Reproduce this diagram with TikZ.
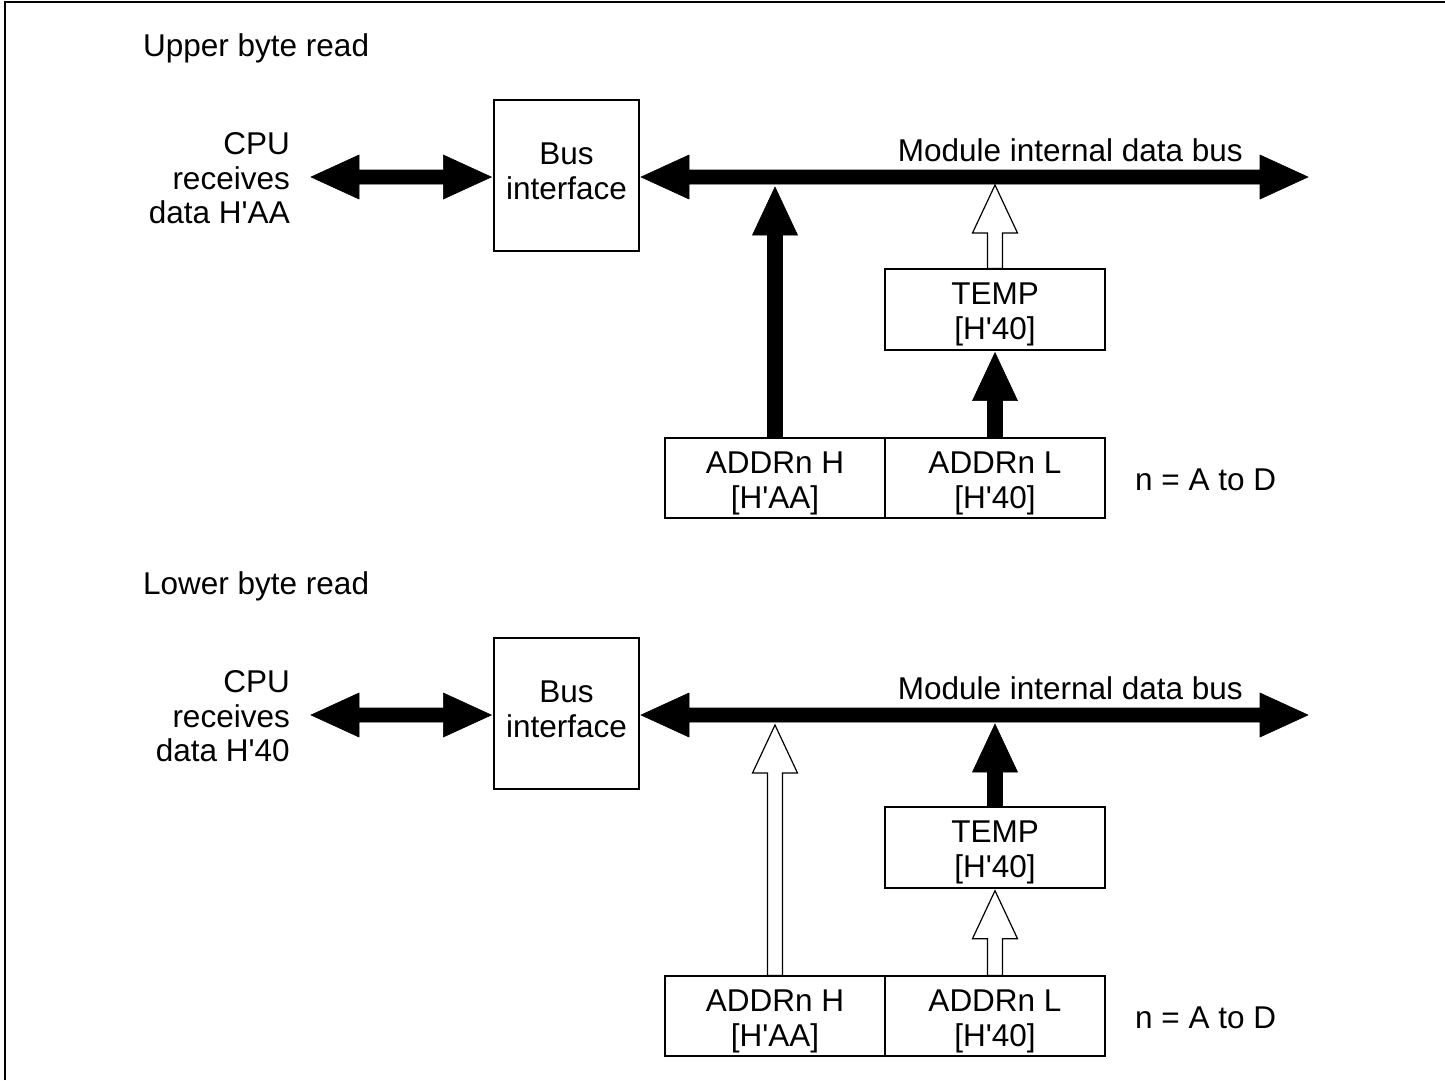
\documentclass[tikz,border=0pt]{standalone}
\usepackage{fontspec}
\setmainfont{Liberation Sans}
\usetikzlibrary{calc}
\newcommand{\q}{\textquotesingle}
\tikzset{
  txt/.style={inner sep=0pt, font=\fontsize{31.5}{34.5}\selectfont},
  box/.style={draw, line width=1.3pt, inner sep=0pt},
  solidfill/.style={fill=black, draw=black, line width=0.6pt},
  hollowfill/.style={fill=white, draw=black, line width=1.2pt},
  uparrow/.style={to path={let \p1=(\tikztostart),\p2=(\tikztotarget) in
     (\x1-7.5pt,\y1) -- (\x1-7.5pt,\y2-48pt) -- (\x1-22.5pt,\y2-48pt) -- (\x1,\y2)
     -- (\x1+22.5pt,\y2-48pt) -- (\x1+7.5pt,\y2-48pt) -- (\x1+7.5pt,\y1) -- cycle}},
  dblarrow/.style={to path={let \p1=(\tikztostart),\p2=(\tikztotarget) in
     (\x1,\y1) -- (\x1+48pt,\y1+22pt) -- (\x1+48pt,\y1+7pt) -- (\x2-48pt,\y1+7pt)
     -- (\x2-48pt,\y1+22pt) -- (\x2,\y1) -- (\x2-48pt,\y1-22pt) -- (\x2-48pt,\y1-7pt)
     -- (\x1+48pt,\y1-7pt) -- (\x1+48pt,\y1-22pt) -- cycle}}
}
\begin{document}
\begin{tikzpicture}[x=1pt,y=-1pt]
\useasboundingbox (0,0) rectangle (1445,1080);
\draw[line width=2pt] (5,1080) -- (5,2) -- (1445,2);

% ---------- Upper byte read ----------
\node[txt, anchor=base west] (title1) at (143,56) {Upper byte read};
\node[txt, align=right, anchor=east] (cpu1) at (290,178.5) {CPU\\receives\\data H\q AA};
\node[box, minimum width=145pt, minimum height=151pt] (bi1) at (566.5,175.5) {};
\node[txt, align=center] (bit1) at (566.5,171.5) {Bus\\interface};
\coordinate (cl1) at (311,177);
\coordinate (busW1) at (641,177);
\coordinate (busE1) at (1308,177);
\node[txt, anchor=base east] (bl1) at (1243,161) {Module internal data bus};
\node[box, minimum width=220pt, minimum height=81pt] (temp1) at (995,309.5) {};
\node[txt, align=center] (tempt1) at (995,314.5) {TEMP\\{[H\q 40]}};
\node[box, minimum width=220pt, minimum height=80pt] (addrH1) at (775,478) {};
\node[txt, align=center] (addrHt1) at (775,483.5) {ADDRn H\\{[H\q AA]}};
\node[box, minimum width=220pt, minimum height=80pt] (addrL1) at (995,478) {};
\node[txt, align=center] (addrLt1) at (995,483.5) {ADDRn L\\{[H\q 40]}};
\node[txt, anchor=base west] (n1) at (1135,490) {n = A to D};
\coordinate (tipA1) at (776,187);
\coordinate (tipB1) at (995,185);

\draw[solidfill, dblarrow] (cl1) to ([xshift=-2pt]bi1.west);
\draw[solidfill, dblarrow] (busW1) to (busE1);
\draw[solidfill, uparrow] (addrH1.north) to (tipA1);
\draw[hollowfill, uparrow] (temp1.north) to (tipB1);
\draw[solidfill, uparrow] (addrL1.north) to ([yshift=-2pt]temp1.south);

% ---------- Lower byte read ----------
\node[txt, anchor=base west] (title2) at (143,594) {Lower byte read};
\node[txt, align=right, anchor=east] (cpu2) at (290,716.5) {CPU\\receives\\data H\q 40};
\node[box, minimum width=145pt, minimum height=151pt] (bi2) at (566.5,713.5) {};
\node[txt, align=center] (bit2) at (566.5,709.5) {Bus\\interface};
\coordinate (cl2) at (311,715);
\coordinate (busW2) at (641,715);
\coordinate (busE2) at (1308,715);
\node[txt, anchor=base east] (bl2) at (1243,699) {Module internal data bus};
\node[box, minimum width=220pt, minimum height=81pt] (temp2) at (995,847.5) {};
\node[txt, align=center] (tempt2) at (995,852.5) {TEMP\\{[H\q 40]}};
\node[box, minimum width=220pt, minimum height=80pt] (addrH2) at (775,1016) {};
\node[txt, align=center] (addrHt2) at (775,1021.5) {ADDRn H\\{[H\q AA]}};
\node[box, minimum width=220pt, minimum height=80pt] (addrL2) at (995,1016) {};
\node[txt, align=center] (addrLt2) at (995,1021.5) {ADDRn L\\{[H\q 40]}};
\node[txt, anchor=base west] (n2) at (1135,1028) {n = A to D};
\coordinate (tipA2) at (776,725);
\coordinate (tipB2) at (995,724);

\draw[solidfill, dblarrow] (cl2) to ([xshift=-2pt]bi2.west);
\draw[solidfill, dblarrow] (busW2) to (busE2);
\draw[hollowfill, uparrow] (addrH2.north) to (tipA2);
\draw[solidfill, uparrow] (temp2.north) to (tipB2);
\draw[hollowfill, uparrow] (addrL2.north) to ([yshift=-2pt]temp2.south);
\end{tikzpicture}
\end{document}
